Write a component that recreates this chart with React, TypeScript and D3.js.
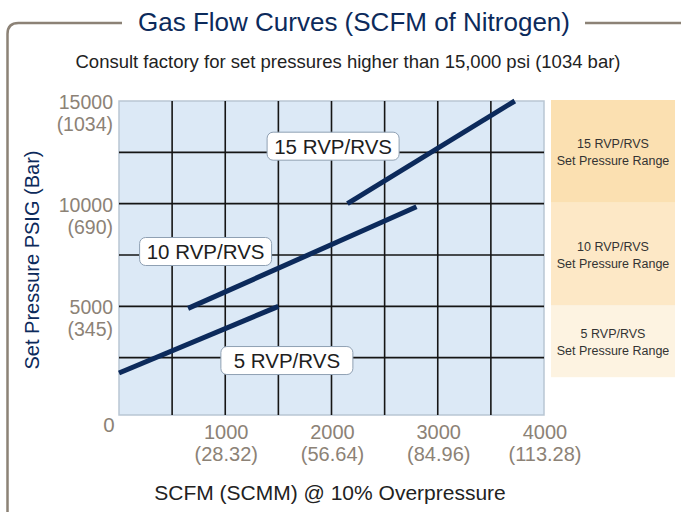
import React from 'react';
import * as d3 from 'd3';

const W = 681;
const H = 512;

// axis ticks
const xTicks = [1000, 2000, 3000, 4000];
const xTickMetric = ['(28.32)', '(56.64)', '(84.96)', '(113.28)'];
const yTicks = [15000, 10000, 5000];
const yTickMetric = ['(1034)', '(690)', '(345)'];
const gridX = [500, 1000, 1500, 2000, 2500, 3000, 3500];
const gridY = [2500, 5000, 7500, 10000, 12500];

// flow curves (SCFM, PSIG)
const seriesNames = ['5 RVP/RVS', '10 RVP/RVS', '15 RVP/RVS'];
const seriesStart = [[0, 1750], [650, 4900], [2150, 10000]];
const seriesEnd = [[1500, 5000], [2800, 9850], [3725, 15000]];
const labelAt = [[1580, 2360], [815, 7670], [2015, 12800]];

// set pressure ranges on the right
const rangeNames = ['5 RVP/RVS', '10 RVP/RVS', '15 RVP/RVS'];
const rangeLow = [1500, 5000, 10000];
const rangeHigh = [5000, 10000, 15000];
const rangeFill = ['#fdf3e1', '#fde8c6', '#fbe0b1'];

const font = '"Liberation Sans", Arial, sans-serif';
const navy = '#0c2a5b';
const taupe = '#8c8276';

export default function App() {
	const x = d3.scaleLinear().domain([0, 4000]).range([119, 544]);
	const y = d3.scaleLinear().domain([0, 15000]).range([409, 101]);
	const line = d3.line<number[]>().x(d => x(d[0])).y(d => y(d[1]));

	const plotBottom = y(0) + 6;

	return (
		<svg width={W} height={H} style={{ position: 'absolute', left: 0, top: 0 }} fontFamily={font}>
			<rect width={W} height={H} fill="#fff" />

			{/* frame */}
			<path d="M7.5,512 V34 Q7.5,23 18.5,23 H122" fill="none" stroke={taupe} strokeWidth={2.5} />
			<path d="M585,23 H681" fill="none" stroke={taupe} strokeWidth={2.5} />
			<text x={354} y={31} textAnchor="middle" fontSize={26} fill={navy}>Gas Flow Curves (SCFM of Nitrogen)</text>
			<text x={348} y={68} textAnchor="middle" fontSize={18.5} fill="#222">Consult factory for set pressures higher than 15,000 psi (1034 bar)</text>

			{/* plot area */}
			<rect x={x(0)} y={y(15000)} width={x(4000) - x(0)} height={plotBottom - y(15000)} fill="#dce9f6" stroke="#b9c6d3" strokeWidth={1.5} />
			<g stroke="#151515" strokeWidth={1.6}>
				{gridX.map(v => (
					<line key={'gx' + v} x1={x(v)} x2={x(v)} y1={y(15000)} y2={plotBottom} />
				))}
				{gridY.map(v => (
					<line key={'gy' + v} x1={x(0)} x2={x(4000)} y1={y(v)} y2={y(v)} />
				))}
			</g>

			{/* curves */}
			{seriesNames.map((n, i) => (
				<path key={n} d={line([seriesStart[i], seriesEnd[i]]) || ''} stroke={navy} strokeWidth={5} fill="none" />
			))}
			{seriesNames.map((n, i) => (
				<g key={'lab' + n} transform={`translate(${x(labelAt[i][0])},${y(labelAt[i][1])})`}>
					<rect x={-66} y={-14} width={132} height={28} rx={6} fill="#fff" stroke="#8fa0b3" strokeWidth={1} />
					<text y={7.5} textAnchor="middle" fontSize={20.5} fill="#1e1e1e">{n}</text>
				</g>
			))}

			{/* y axis */}
			{yTicks.map((v, i) => (
				<g key={'yt' + v} fill={taupe} fontSize={19.5} textAnchor="end">
					<text x={113} y={y(v) + 8}>{v}</text>
					<text x={113} y={y(v) + 30}>{yTickMetric[i]}</text>
				</g>
			))}
			<text x={109} y={432} textAnchor="middle" fontSize={20.5} fill={taupe}>0</text>
			<text transform="translate(39,260) rotate(-90)" textAnchor="middle" fontSize={20} fill={navy}>Set Pressure PSIG (Bar)</text>

			{/* x axis */}
			{xTicks.map((v, i) => (
				<g key={'xt' + v} fill={taupe} fontSize={20} textAnchor="middle">
					<text x={x(v) + 1} y={439}>{v}</text>
					<text x={x(v) + 1} y={461}>{xTickMetric[i]}</text>
				</g>
			))}
			<text x={330} y={500} textAnchor="middle" fontSize={21} fill="#222">SCFM (SCMM) @ 10% Overpressure</text>

			{/* pressure range legend */}
			{rangeNames.map((n, i) => {
				const top = y(rangeHigh[i]) - 1;
				const bot = y(rangeLow[i]) - 1;
				const cy = (top + bot) / 2;
				return (
					<g key={'rg' + n}>
						<rect x={551} y={top} width={124} height={bot - top} fill={rangeFill[i]} />
						<text x={613} y={cy - 3} textAnchor="middle" fontSize={12.5} fill="#333">{n}</text>
						<text x={613} y={cy + 14} textAnchor="middle" fontSize={12.5} fill="#333">Set Pressure Range</text>
					</g>
				);
			})}
		</svg>
	);
}
